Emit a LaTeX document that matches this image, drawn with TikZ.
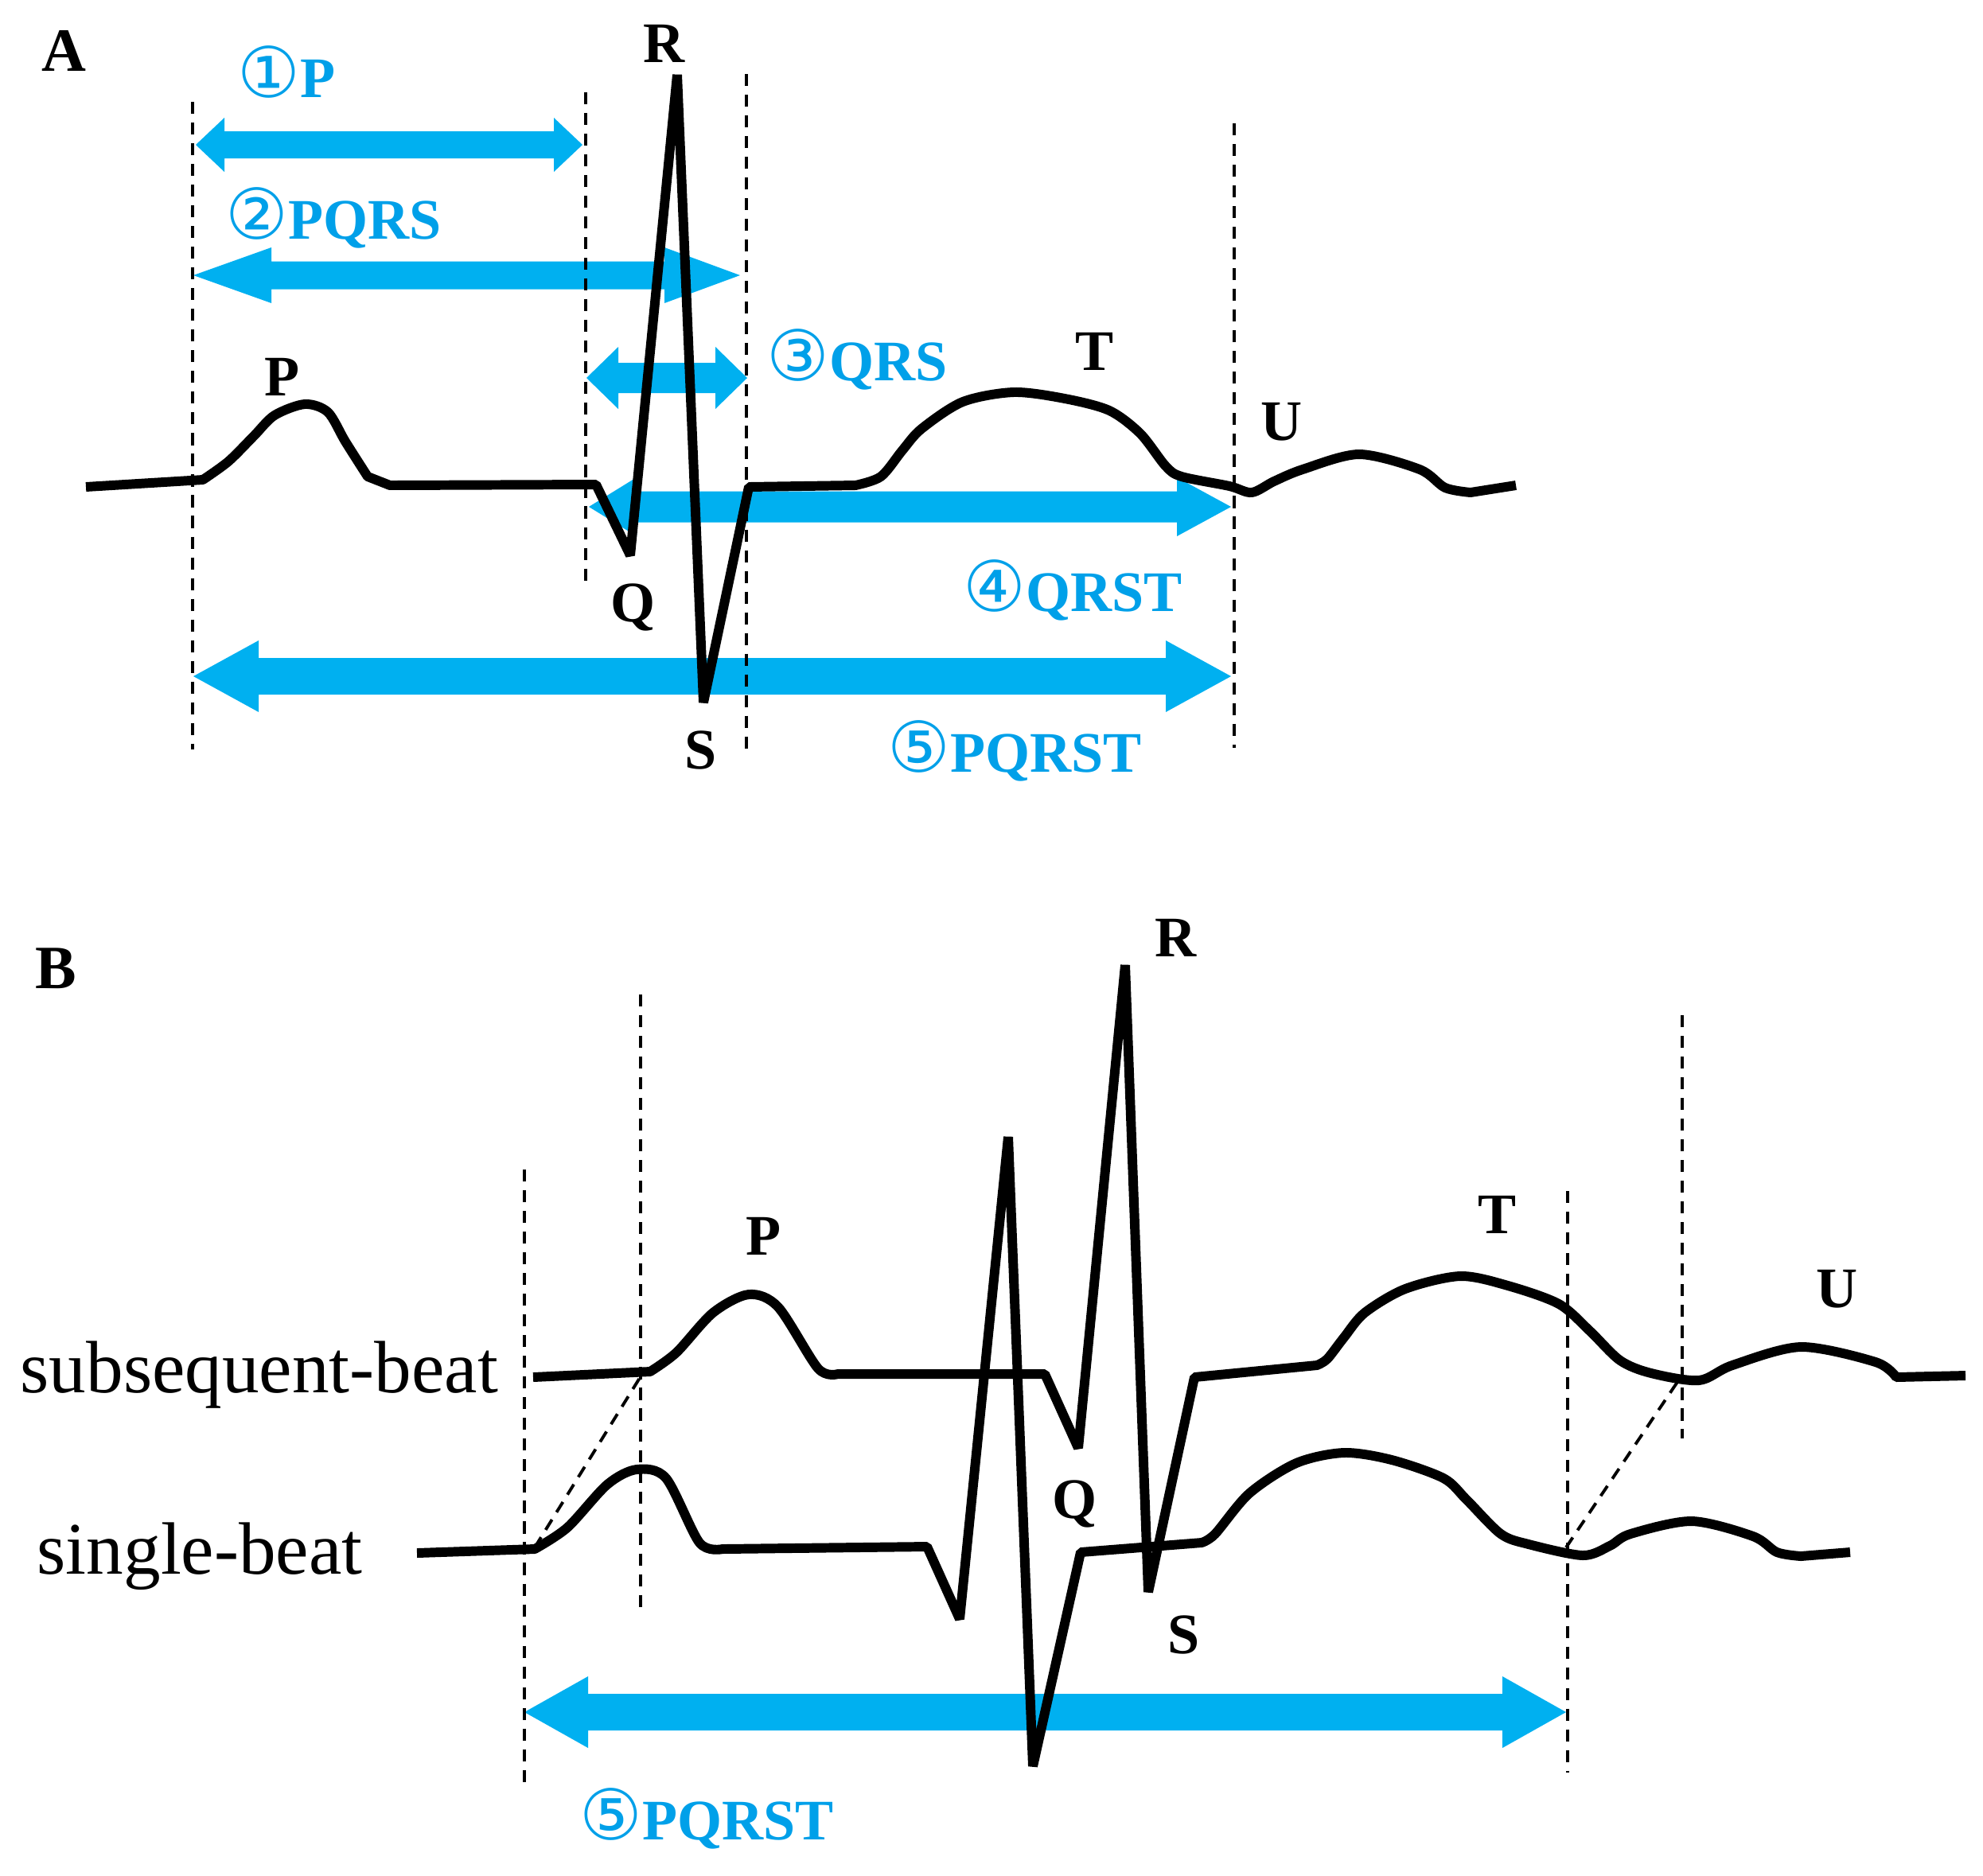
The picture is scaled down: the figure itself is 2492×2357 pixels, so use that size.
\documentclass[tikz,border=0pt]{standalone}
\usepackage{fontspec}
\setmainfont{Liberation Serif}
\newfontfamily\circfont{DejaVu Sans}
\usetikzlibrary{calc}
\definecolor{arrowblue}{RGB}{0,176,240}
\definecolor{textblue}{RGB}{0,160,233}
\newcommand\circnum[1]{{\circfont\mdseries\fontsize{25}{28}\selectfont #1}}
\tikzset{
  ecg/.style={line width=3.4pt, line join=bevel, line cap=butt},
  guide/.style={line width=1.1pt, dash pattern=on 4.3pt off 3.1pt},
  wave/.style={font=\fontsize{20.5}{24}\selectfont\bfseries, inner sep=0pt, anchor=base},
  panel/.style={font=\fontsize{22}{26}\selectfont\bfseries, inner sep=0pt, anchor=base},
  spanlabel/.style={font=\fontsize{20.5}{24}\selectfont\bfseries, text=textblue, inner sep=0pt, anchor=base west},
  beat/.style={font=\fontsize{26.5}{30}\selectfont, inner sep=0pt, anchor=base west},
}
\newcommand\spanarrow[6]{%
  \fill[arrowblue] (#1) -- ($(#1)+(#4,-#6)$) -- ($(#1)+(#4,-#3)$) -- ($(#2)+(-#5,-#3)$) -- ($(#2)+(-#5,-#6)$) -- (#2) -- ($(#2)+(-#5,#6)$) -- ($(#2)+(-#5,#3)$) -- ($(#1)+(#4,#3)$) -- ($(#1)+(#4,#6)$) -- cycle;}
\begin{document}
\begin{tikzpicture}[x=0.01cm, y=-0.01cm]
\useasboundingbox (0,0) rectangle (2492,2357);
% ---------------- Panel A ----------------
\coordinate (a1L) at (246,182); \coordinate (a1R) at (732,182);
\coordinate (a2L) at (243,346); \coordinate (a2R) at (930,346);
\coordinate (a3L) at (737,475); \coordinate (a3R) at (939,475);
\coordinate (a4L) at (740,637); \coordinate (a4R) at (1547,637);
\coordinate (a5L) at (243,850); \coordinate (a5R) at (1547,850);
\spanarrow{a1L}{a1R}{17}{36}{36}{34}
\spanarrow{a2L}{a2R}{17.5}{98}{95}{35}
\spanarrow{a3L}{a3R}{19}{40}{40}{39}
\spanarrow{a4L}{a4R}{19.5}{60}{68}{37}
\spanarrow{a5L}{a5R}{23}{82}{82}{45}
% guides
\coordinate (gA1t) at (242,128); \coordinate (gA1b) at (242,942);
\coordinate (gA2t) at (736,116); \coordinate (gA2b) at (736,738);
\coordinate (gA3t) at (938,93);  \coordinate (gA3b) at (938,947);
\coordinate (gA4t) at (1551,155); \coordinate (gA4b) at (1551,940);
\draw[guide] (gA1t) -- (gA1b);
\draw[guide] (gA2t) -- (gA2b);
\draw[guide] (gA3t) -- (gA3b);
\draw[guide] (gA4t) -- (gA4b);
% trace
\draw[ecg] (108,612) -- (255,603)
  -- plot[smooth] coordinates {(255,603) (287,580) (319,548) (345,522) (383,508) (412,518) (434,555) (462,599)}
  -- (490,610) -- (749,609) -- (792,698) -- (851,94) -- (884,883) -- (941,612) -- (1075,610)
  -- plot[smooth] coordinates {(1075,610) (1107,599) (1134,566) (1158,539) (1210,505) (1274,493) (1338,501) (1394,516) (1433,545) (1465,586) (1485,599) (1545,611) (1573,619) (1601,605) (1637,590) (1708,571) (1784,590) (1816,613) (1848,619)}
  -- (1905,610);
% labels
\node[panel] (labA) at (80,89) {A};
\node[wave] (RA) at (835,78) {R};
\node[wave] (PA) at (355,497) {P};
\node[wave] (QA) at (796,781) {Q};
\node[wave] (SA) at (881,966) {S};
\node[wave] (TA) at (1376,465) {T};
\node[wave] (UA) at (1611,553) {U};
\node[spanlabel] (l1) at (298,122) {\circnum{①}P};
\node[spanlabel] (l2) at (283,300) {\circnum{②}PQRS};
\node[spanlabel] (l3) at (963,478) {\circnum{③}QRS};
\node[spanlabel] (l4) at (1210,768) {\circnum{④}QRST};
\node[spanlabel] (l5) at (1115,970) {\circnum{⑤}PQRST};
% ---------------- Panel B ----------------
\coordinate (b5L) at (659,2152); \coordinate (b5R) at (1968,2152);
\spanarrow{b5L}{b5R}{23}{80}{80}{45}
\coordinate (gB1t) at (659,1470); \coordinate (gB1b) at (659,2240);
\coordinate (gB2t) at (805,1250); \coordinate (gB2b) at (805,2022);
\coordinate (gB3t) at (1970,1497); \coordinate (gB3b) at (1970,2228);
\coordinate (gB4t) at (2114,1276); \coordinate (gB4b) at (2114,1808);
\draw[guide] (gB1t) -- (gB1b);
\draw[guide] (gB2t) -- (gB2b);
\draw[guide] (gB3t) -- (gB3b);
\draw[guide] (gB4t) -- (gB4b);
\coordinate (dg1a) at (672,1945); \coordinate (dg1b) at (807,1727);
\coordinate (dg2a) at (1968,1945); \coordinate (dg2b) at (2112,1731);
\draw[guide] (dg1a) -- (dg1b);
\draw[guide] (dg2a) -- (dg2b);
% subsequent beat
\draw[ecg] (670,1731) -- (817,1724)
  -- plot[smooth] coordinates {(817,1724) (850,1700) (896,1650) (941,1627) (978,1643) (1028,1720) (1053,1727)}
  -- (1313,1727) -- (1355,1820) -- (1414,1213) -- (1443,2001) -- (1501,1731) -- (1655,1716)
  -- plot[smooth] coordinates {(1655,1716) (1668,1708) (1689,1681) (1715,1650) (1766,1620) (1835,1604) (1895,1616) (1959,1639) (1998,1673) (2036,1710) (2075,1726) (2135,1735) (2177,1716) (2263,1693) (2357,1712) (2383,1731)}
  -- (2470,1729);
% single beat
\draw[ecg] (524,1952) -- (672,1947)
  -- plot[smooth] coordinates {(672,1947) (713,1920) (763,1866) (800,1847) (837,1858) (879,1939) (908,1947)}
  -- (1165,1944) -- (1206,2035) -- (1267,1429) -- (1298,2220) -- (1358,1951) -- (1510,1939)
  -- plot[smooth] coordinates {(1510,1939) (1527,1928) (1570,1877) (1629,1839) (1689,1826) (1749,1835) (1814,1858) (1843,1885) (1886,1928) (1921,1941) (1989,1955) (2023,1943) (2049,1928) (2126,1912) (2203,1931) (2233,1951) (2263,1956)}
  -- (2325,1951);
\node[panel] (labB) at (70,1242) {B};
\node[wave] (PB) at (960,1577) {P};
\node[wave] (RB) at (1478,1202) {R};
\node[wave] (QB) at (1351,1908) {Q};
\node[wave] (SB) at (1488,2078) {S};
\node[wave] (TB) at (1882,1550) {T};
\node[wave] (UB) at (2308,1643) {U};
\node[spanlabel] (l5B) at (728,2312) {\circnum{⑤}PQRST};
\node[beat] (sub) at (25,1750) {subsequent-beat};
\node[beat] (sgl) at (46,1978) {single-beat};
\end{tikzpicture}
\end{document}
